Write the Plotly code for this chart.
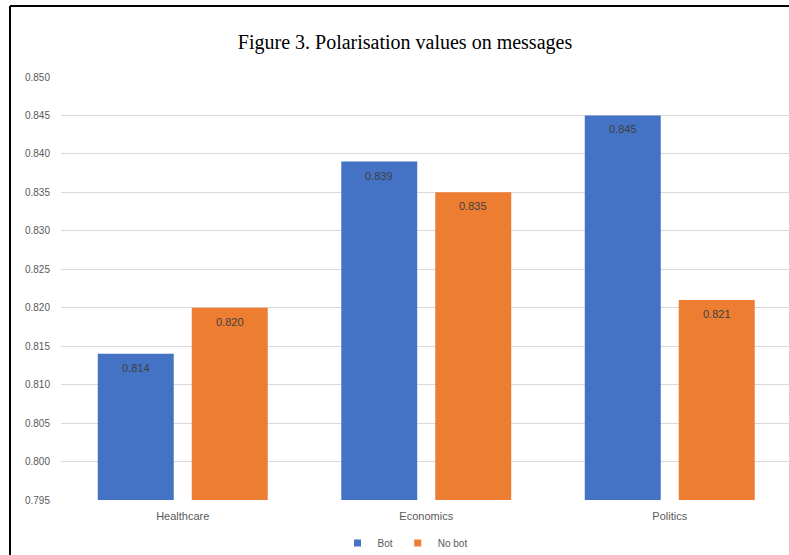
import plotly.graph_objects as go

categories = ["Healthcare", "Economics", "Politics"]
bot_values = [0.814, 0.839, 0.845]
nobot_values = [0.820, 0.835, 0.821]
y_ticks = [0.795, 0.800, 0.805, 0.810, 0.815, 0.820, 0.825, 0.830, 0.835, 0.840, 0.845, 0.850]
title_text = "Figure 3. Polarisation values on messages"

W, H = 789, 555
L, R, T, B = 61, 0, 77, 55
plot_w = W - L - R
plot_h = H - T - B

fig = go.Figure()
series = [("Bot", bot_values, "#4472C4", -0.349), ("No bot", nobot_values, "#ED7D31", 0.037)]
for name, vals, col, off in series:
    fig.add_trace(go.Bar(
        x=list(range(len(categories))), y=[v - y_ticks[0] for v in vals], base=y_ticks[0],
        name=name, width=0.312, offset=off,
        marker=dict(color=col, line=dict(width=0)),
        hoverinfo="skip", showlegend=False,
    ))
    # legend entry with a small square swatch
    fig.add_trace(go.Scatter(
        x=[None], y=[None], mode="markers", name=name,
        marker=dict(symbol="square", size=7, color=col), showlegend=True,
    ))
    for i, v in enumerate(vals):
        fig.add_annotation(x=i + off + 0.156, y=v, text=f"{v:.3f}", showarrow=False,
                           yanchor="top", yshift=-6,
                           font=dict(family="Liberation Sans", size=11, color="#404040"))

fig.update_layout(
    width=W, height=H,
    margin=dict(l=L, r=R, t=T, b=B, autoexpand=False),
    paper_bgcolor="white", plot_bgcolor="white",
    barmode="overlay",
    title=dict(text=title_text, x=405 / W, xanchor="center", y=1 - 42 / H, yanchor="middle",
               font=dict(family="Liberation Serif", size=20, color="#000000")),
    xaxis=dict(range=[-0.5, -0.5 + plot_w / 243.5], tickmode="array",
               tickvals=list(range(len(categories))), ticktext=categories,
               showgrid=False, zeroline=False, showline=False, ticks="",
               tickfont=dict(family="Liberation Sans", size=11, color="#595959"),
               ticklabelstandoff=8),
    yaxis=dict(range=[0.795, 0.850], tickmode="array", tickvals=y_ticks,
               ticktext=[f"{t:.3f}" for t in y_ticks],
               showgrid=True, gridcolor="#D9D9D9", gridwidth=1, zeroline=False,
               showline=False, ticks="",
               tickfont=dict(family="Liberation Sans", size=10, color="#595959"),
               ticklabelstandoff=10),
    legend=dict(orientation="h", x=(405 - L) / plot_w, xref="paper", xanchor="center",
                y=-(543 - 500) / plot_h, yanchor="middle",
                font=dict(family="Liberation Sans", size=10, color="#595959"),
                itemwidth=30, traceorder="normal", tracegroupgap=0),
    showlegend=True,
)
# frame lines (left and top border of the chart image)
fig.add_shape(type="line", xref="paper", yref="paper",
              x0=(10 - L) / plot_w, x1=(10 - L) / plot_w, y0=(H - B - H) / plot_h, y1=(H - B - 6) / plot_h,
              line=dict(color="black", width=2))
fig.add_shape(type="line", xref="paper", yref="paper",
              x0=(10 - L) / plot_w, x1=(W - L) / plot_w, y0=(H - B - 6) / plot_h, y1=(H - B - 6) / plot_h,
              line=dict(color="black", width=2))

fig.write_html("out.html")
